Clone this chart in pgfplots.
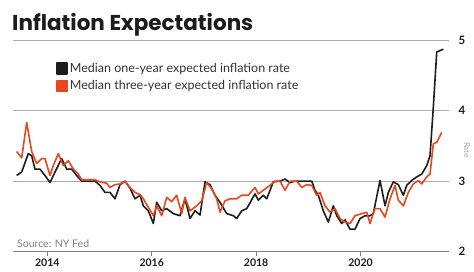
\documentclass[border=0pt]{standalone}
\usepackage{pgfplots}
\usepackage{pgfplotstable}
\pgfplotsset{compat=1.18}
\usepackage{fontspec}
\setmainfont{Lato}
\newfontfamily\titlefont{Poppins}
\definecolor{ora}{HTML}{E8461E}
\definecolor{blk}{HTML}{1C1C1C}
\definecolor{gridc}{HTML}{ABABAB}
\definecolor{txt}{HTML}{333333}

\pgfplotstableread{
px v
16.7 3.08
21.7 3.13
28.3 3.39
31.7 3.36
35 3.17
40 3.17
45 3.08
50 2.98
55 3.13
61.7 3.32
66.7 3.17
71.7 3.17
76.7 3.08
81.7 3.00
90 3.00
95 3.00
100 2.94
105 2.84
110 2.84
115 2.75
120 2.95
125 3.00
130 2.90
135 2.75
140 2.80
143.3 2.65
148.3 2.58
153.3 2.40
156.7 2.70
161.7 2.58
166.7 2.61
173.3 2.54
180 2.51
185 2.75
190 2.47
195 2.58
200 2.52
205 2.99
210 2.95
215 2.80
220 2.70
226.7 2.54
233.3 2.51
236.7 2.47
241.7 2.58
246.7 2.61
255 2.82
258.3 2.73
263.3 2.80
266.7 2.75
273.3 2.99
280 3.00
285 3.03
290 2.98
295 3.00
301.7 3.00
311.7 3.00
315 2.87
318.3 2.80
323.3 2.58
328.3 2.42
333.3 2.65
336.7 2.51
341.7 2.40
345 2.45
350 2.32
355 2.32
360 2.47
365 2.51
370 2.51
373.3 2.54
380 3.01
385 2.65
388.3 2.84
393.3 2.99
398.3 2.95
403.3 2.80
406.7 2.94
411.7 3.01
416.7 3.06
421.7 3.10
426.7 3.22
430 3.36
433.3 4.05
436.7 4.83
443.3 4.87
}\oneyear

\pgfplotstableread{
px v
16.7 3.42
21.7 3.33
26.7 3.83
31.7 3.42
36.7 3.25
41.7 3.32
45 3.32
50 3.08
53.3 3.22
58.3 3.39
63.3 3.22
68.3 3.29
73.3 3.17
78.3 3.10
81.7 3.02
90 3.02
95 3.02
100 2.99
106.7 2.97
110 2.91
115 2.95
120 2.96
125 3.00
130 2.91
135 2.84
140 2.81
143.3 2.75
148.3 2.63
153.3 2.51
156.7 2.65
161.7 2.51
166.7 2.77
171.7 2.71
176.7 2.80
181.7 2.54
185 2.77
190 2.58
196.7 2.65
201.7 2.72
206.7 2.98
211.7 2.89
216.7 2.75
220 2.56
225 2.72
230 2.75
236.7 2.75
241.7 2.80
248.3 2.80
255 2.91
258.3 2.82
263.3 2.87
270 2.94
275 3.00
280 3.00
285 2.87
290 3.00
296.7 3.00
301.7 2.91
306.7 2.95
311.7 2.94
316.7 2.80
320 2.84
325 2.65
330 2.56
335 2.61
340 2.47
345 2.42
350 2.40
355 2.51
361.7 2.54
366.7 2.56
370 2.40
375 2.61
380 2.61
385 2.49
390 2.75
395 2.94
398.3 2.73
403.3 2.65
408.3 2.84
413.3 2.96
418.3 3.01
421.7 2.96
426.7 3.06
430 3.10
433.3 3.53
436.7 3.55
441.7 3.69
}\threeyear

\begin{document}
\begin{tikzpicture}[x=1bp,y=1bp]
\useasboundingbox (0,0) rectangle (474,-271);
\node[anchor=base west, inner sep=0, font=\fontsize{21.5bp}{24bp}\selectfont\titlefont\bfseries, text=blk] at (12,-30) {Inflation Expectations};
\begin{axis}[
  at={(13bp,-251.7bp)}, anchor=south west,
  scale only axis, width=436bp, height=211.7bp,
  xmin=2013.343, xmax=2021.695, ymin=2, ymax=5,
  axis x line*=bottom, axis y line*=right,
  x axis line style={draw=gray, line width=0.9bp, -},
  y axis line style={draw=none},
  ymajorgrids, grid style={gridc, line width=0.9bp},
  xtick={2014,2016,2018,2020}, xticklabels={2014,2016,2018,2020},
  ytick={2,3,4,5}, yticklabels={2,3,4,5},
  ytick style={draw=none},
  xtick style={draw=gray, line width=0.9bp},
  tick align=outside, major tick length=4bp,
  xticklabel style={font=\fontsize{10.5bp}{12bp}\selectfont\bfseries, text=blk},
  yticklabel style={font=\fontsize{11.5bp}{13bp}\selectfont\bfseries, text=blk, xshift=2bp},
  clip=false,
  legend cell align=left,
  legend style={at={(0.099,0.902)}, anchor=north west, draw=none, fill=none,
    font=\fontsize{12.5bp}{15bp}\selectfont, text=txt, row sep=3bp,
    inner sep=0pt, nodes={inner sep=2bp}},
]
\addplot[blk, line width=1.6bp, line join=round,
  legend image code/.code={\fill[blk] (0bp,-5.5bp) rectangle (10bp,5.5bp);}]
  table[x expr=2013.0939+\thisrow{px}/52.2, y=v] {\oneyear};
\addlegendentry{Median one-year expected inflation rate}
\addplot[ora, line width=1.6bp, line join=round,
  legend image code/.code={\fill[ora] (0bp,-5.5bp) rectangle (10bp,5.5bp);}]
  table[x expr=2013.0939+\thisrow{px}/52.2, y=v] {\threeyear};
\addlegendentry{Median three-year expected inflation rate}
\end{axis}
\node[anchor=west, inner sep=0, font=\fontsize{10.5bp}{12bp}\selectfont, text=gray] at (17,-244) {Source: NY Fed};
\node[anchor=center, rotate=-90, inner sep=0, font=\fontsize{8bp}{10bp}\selectfont, text=gray!70] at (467,-150) {Rate};
\end{tikzpicture}
\end{document}
